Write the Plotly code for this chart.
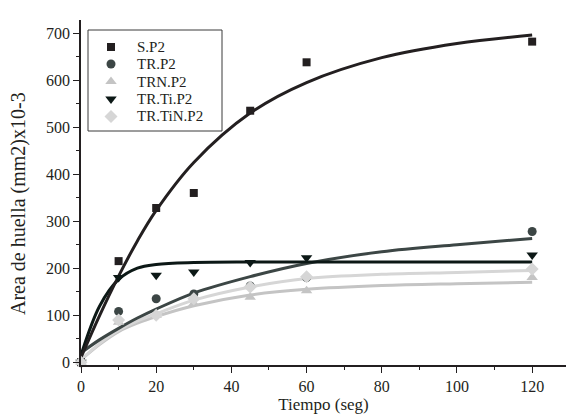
import plotly.graph_objects as go

# Measured points
time_pts = [0, 10, 20, 30, 45, 60, 120]
s_p2 = [0, 215, 328, 360, 535, 638, 682]
tr_p2 = [0, 108, 135, 145, 162, 180, 278]
trn_p2 = [0, 85, 100, 125, 138, 152, 180]
tr_ti_p2 = [0, 180, 185, 192, 212, 222, 228]
tr_tin_p2 = [0, 90, 100, 135, 160, 182, 198]

# Fitted curves
fit_x = [0, 5, 10, 15, 20, 30, 45, 60, 80, 100, 120]
fit_s_p2 = [10, 100, 183, 258, 323, 425, 530, 595, 648, 678, 696]
fit_tr_p2 = [20, 48, 72, 94, 113, 147, 182, 210, 235, 250, 263]
fit_trn_p2 = [5, 38, 65, 83, 97, 120, 143, 155, 163, 167, 170]
fit_tr_ti_p2 = [15, 120, 176, 200, 208, 212, 213, 213, 213, 213, 213]
fit_tr_tin_p2 = [5, 40, 68, 88, 103, 132, 160, 178, 187, 191, 195]

x_ticks = [0, 20, 40, 60, 80, 100, 120]
y_ticks = [0, 100, 200, 300, 400, 500, 600, 700]

names = ["S.P2", "TR.P2", "TRN.P2", "TR.Ti.P2", "TR.TiN.P2"]
points = [s_p2, tr_p2, trn_p2, tr_ti_p2, tr_tin_p2]
fits = [fit_s_p2, fit_tr_p2, fit_trn_p2, fit_tr_ti_p2, fit_tr_tin_p2]
colors = ["#231f20", "#3c4645", "#c4c4c4", "#0c1816", "#d6d6d6"]
symbols = ["square", "circle", "triangle-up", "triangle-down", "diamond"]
sizes = [8, 9, 10, 10, 10]

# plot-area geometry in pixels (for placing the legend box)
W, H = 566, 418
L, R, T, B = 81, 0, 20, 53
pw, ph = W - L - R, H - T - B
def px_x(p):
    return (p - L) / pw
def px_y(p):
    return (H - B - p) / ph

fig = go.Figure()
for i in [2, 4, 1, 3, 0]:
    fig.add_trace(go.Scatter(
        x=fit_x, y=fits[i], mode="lines", line=dict(color=colors[i], width=3, shape="spline"),
        showlegend=False, hoverinfo="skip", cliponaxis=False))
for i in range(5):
    fig.add_trace(go.Scatter(
        x=time_pts, y=points[i], mode="markers", name=names[i], showlegend=False,
        marker=dict(color=colors[i], symbol=symbols[i], size=sizes[i], line=dict(width=0)),
        cliponaxis=False))

# legend (box, symbols, labels)
leg_rows_px = [47, 64, 81.5, 99, 116.5]
shapes = [dict(type="rect", xref="paper", yref="paper",
               x0=px_x(88), x1=px_x(222), y0=px_y(131), y1=px_y(30),
               line=dict(color="#3a3a3a", width=1), fillcolor="rgba(0,0,0,0)", layer="above")]
annotations = []
for i, name in enumerate(names):
    fig.add_trace(go.Scatter(
        x=[px_x(111)], y=[px_y(leg_rows_px[i])], xaxis="x2", yaxis="y2", mode="markers",
        marker=dict(color=colors[i], symbol=symbols[i], size=sizes[i], line=dict(width=0)),
        showlegend=False, hoverinfo="skip", cliponaxis=False))
    annotations.append(dict(text=name, showarrow=False, xref="paper", yref="paper",
                            x=px_x(135), y=px_y(leg_rows_px[i]), xanchor="left", yanchor="middle",
                            font=dict(size=15)))

annotations.append(dict(text="Area de huella (mm2)x10-3", textangle=-90, showarrow=False,
                        xref="paper", yref="paper", x=(18 - L) / pw, y=px_y(204),
                        xanchor="center", yanchor="middle", font=dict(size=20)))

font = "Liberation Serif, Times New Roman, serif"
fig.update_layout(
    width=W, height=H,
    margin=dict(l=L, r=R, t=T, b=B),
    paper_bgcolor="white", plot_bgcolor="white",
    font=dict(family=font, size=16, color="#231f20"),
    showlegend=False,
    xaxis=dict(range=[0, 129], tickvals=x_ticks, automargin=False,
               showline=True, linecolor="#231f20", linewidth=1.5,
               ticks="outside", ticklen=6, tickcolor="#231f20", showgrid=False, zeroline=False,
               minor=dict(dtick=10, ticks="outside", ticklen=3, tickcolor="#231f20", showgrid=False),
               title=dict(text="Tiempo (seg)", standoff=4, font=dict(size=17))),
    yaxis=dict(range=[-6, 728], tickvals=y_ticks, automargin=False,
               showline=True, linecolor="#231f20", linewidth=1.5,
               ticks="outside", ticklen=6, tickcolor="#231f20", showgrid=False, zeroline=False,
               minor=dict(dtick=50, ticks="outside", ticklen=3, tickcolor="#231f20", showgrid=False)),
    xaxis2=dict(range=[0, 1], overlaying="x", visible=False, fixedrange=True),
    yaxis2=dict(range=[0, 1], overlaying="y", visible=False, fixedrange=True),
    shapes=shapes,
    annotations=annotations,
)

fig.write_html("out.html", config={"displayModeBar": False},
               post_script="document.body.style.margin='0';")
